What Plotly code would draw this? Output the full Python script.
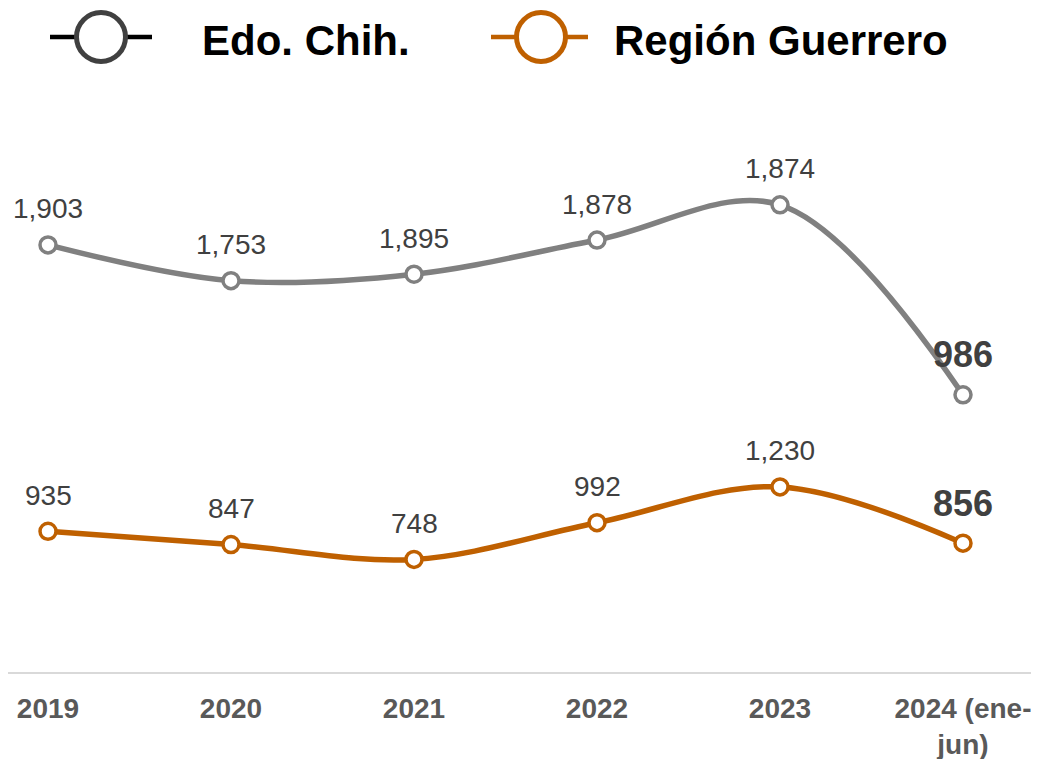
import plotly.graph_objects as go

categories = ["2019", "2020", "2021", "2022", "2023", "2024 (ene-jun)"]
tick_labels = ["2019", "2020", "2021", "2022", "2023", "2024 (ene-<br>jun)"]
edo_chih = [1903, 1753, 1895, 1878, 1874, 986]
region_guerrero = [935, 847, 748, 992, 1230, 856]

FONT = "Liberation Sans, Arial, sans-serif"
GRAY = "#808080"
ORANGE = "#BF6000"
LABEL = "#404040"

x_idx = list(range(len(categories)))
# Stacked line chart: Edo. Chih. is plotted on top of Región Guerrero
chih_stacked = [a + b for a, b in zip(edo_chih, region_guerrero)]

fig = go.Figure()
fig.add_trace(go.Scatter(
    x=x_idx, y=region_guerrero, mode="lines+markers", name="Región Guerrero",
    line=dict(color=ORANGE, width=5.5, shape="spline", smoothing=1),
    marker=dict(size=16, color="white", line=dict(color=ORANGE, width=3.5)),
    showlegend=False, hoverinfo="skip"))
fig.add_trace(go.Scatter(
    x=x_idx, y=chih_stacked, mode="lines+markers", name="Edo. Chih.",
    line=dict(color=GRAY, width=5.5, shape="spline", smoothing=1),
    marker=dict(size=16, color="white", line=dict(color=GRAY, width=3.5)),
    showlegend=False, hoverinfo="skip"))

annotations = []
last = len(categories) - 1
for series_y, vals in ((chih_stacked, edo_chih), (region_guerrero, region_guerrero)):
    for i, (yv, v) in enumerate(zip(series_y, vals)):
        bold = i == last
        annotations.append(dict(
            x=i, y=yv, xref="x", yref="y", text=(f"<b>{v:,}</b>" if bold else f"{v:,}"),
            showarrow=False, yanchor="middle", xanchor="center",
            yshift=40 if bold else 36,
            font=dict(family=FONT, size=36 if bold else 28, color=LABEL)))

# Page offset (body margin) compensation: figure starts at (8, 8) on screen
OFF = 8
FIG_W = 1039 - OFF
FIG_H = 759 - OFF
AXIS_Y = 672  # screen y of the baseline
PLOT_H = AXIS_Y - OFF

def px(s):
    return (s - OFF) / FIG_W

def py(s):
    return (AXIS_Y - s) / PLOT_H

legend_items = [
    (50, 152, 101, "#000000", "#404040", 200, "Edo. Chih."),
    (491, 588, 541, ORANGE, ORANGE, 612, "Región Guerrero"),
]
shapes = []
for x0, x1, cx, lc, cc, tx, txt in legend_items:
    shapes.append(dict(type="line", xref="paper", yref="paper",
                       x0=px(x0), x1=px(x1), y0=py(37), y1=py(37),
                       line=dict(color=lc, width=4.5)))
    shapes.append(dict(type="circle", xref="paper", yref="paper",
                       xsizemode="pixel", ysizemode="pixel",
                       xanchor=px(cx), yanchor=py(37),
                       x0=-24.5, x1=24.5, y0=-24.5, y1=24.5,
                       fillcolor="white", line=dict(color=cc, width=5)))
    annotations.append(dict(x=px(tx), y=py(40), xref="paper", yref="paper",
                            text=f"<b>{txt}</b>", showarrow=False,
                            xanchor="left", yanchor="middle",
                            font=dict(family=FONT, size=42, color="#000000")))

PX_PER_UNIT = 0.1505
fig.update_layout(
    width=FIG_W, height=FIG_H,
    margin=dict(l=0, r=0, t=0, b=FIG_H - PLOT_H, autoexpand=False),
    paper_bgcolor="white", plot_bgcolor="white",
    showlegend=False,
    shapes=shapes, annotations=annotations,
    xaxis=dict(range=[(OFF - 48) / 183, (1039 - 48) / 183],
               tickvals=x_idx, ticktext=tick_labels,
               showgrid=False, zeroline=False, showline=True, automargin=False,
               linecolor="#D9D9D9", linewidth=2, ticks="",
               ticklabelstandoff=10,
               tickfont=dict(family=FONT, size=28, color="#595959", weight="bold")),
    yaxis=dict(range=[0, PLOT_H / PX_PER_UNIT], visible=False, showgrid=False,
               zeroline=False, automargin=False),
)

fig.write_html("out.html")
